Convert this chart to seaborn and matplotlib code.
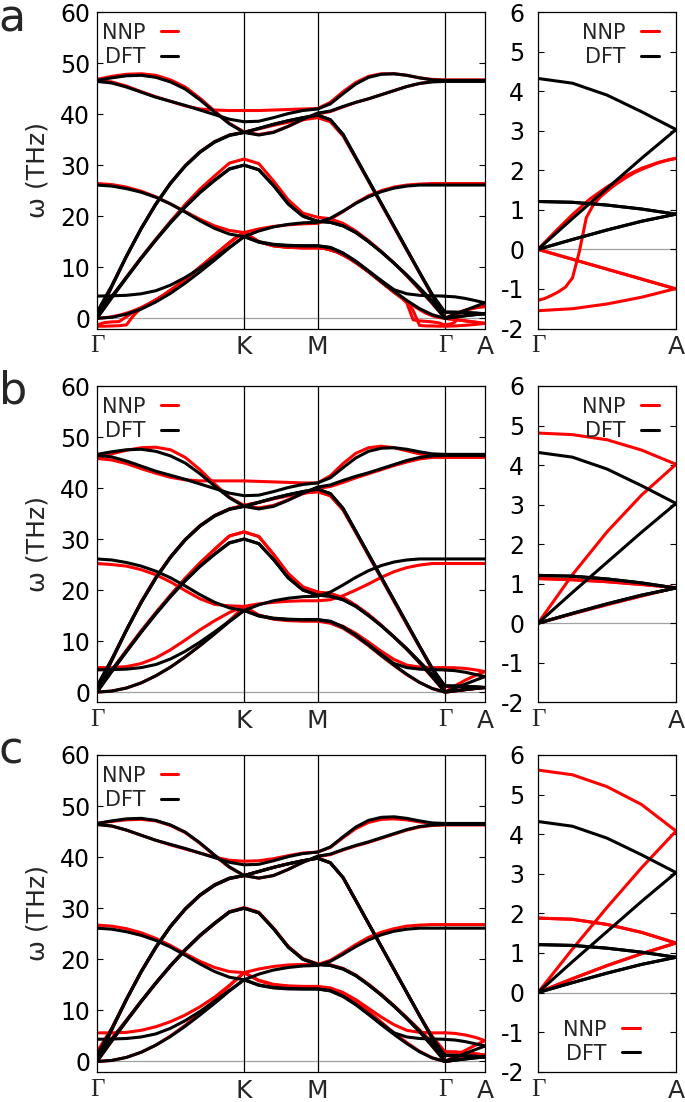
import numpy as np
import pandas as pd
import matplotlib
matplotlib.use("Agg")
import matplotlib.pyplot as plt
from matplotlib.lines import Line2D
import seaborn as sns

# ---------------- k-path ----------------
SEGMENTS = ["GK", "KM", "MG", "GA"]
SEG_LENGTHS = [1.0, 0.5, 0.866, 0.272]          # path lengths of Γ-K, K-M, M-Γ, Γ-A
PATH_LABELS = ["Γ", "K", "M", "Γ", "A"]
ZOOM_LABELS = ["Γ", "A"]
MAIN_YTICKS = [0, 10, 20, 30, 40, 50, 60]
ZOOM_YTICKS = [-2, -1, 0, 1, 2, 3, 4, 5, 6]

# ---------------- DFT bands (THz), evenly sampled along each segment ----------------
DFT_ZA = dict(GK=[0.0, 0.2, 0.8, 1.8, 3.2, 4.9, 6.9, 9.1, 11.4, 13.8, 16.0],
              KM=[16.0, 14.9, 14.4, 14.2, 14.2, 14.2],
              MG=[14.2, 13.8, 12.7, 11.1, 9.2, 7.2, 5.3, 3.5, 1.9, 0.7, 0.0],
              GA=[0.0, 0.78, 1.54, 2.30, 3.03])
DFT_ZA2 = dict(GK=[4.35, 4.4, 4.5, 4.8, 5.4, 6.5, 8.0, 9.8, 11.8, 13.9, 16.0],
               KM=[16.0, 15.0, 14.5, 14.3, 14.2, 14.2],
               MG=[14.2, 13.9, 12.8, 11.2, 9.3, 7.4, 5.6, 4.8, 4.5, 4.4, 4.35],
               GA=[4.32, 4.20, 3.90, 3.48, 3.03])
DFT_TA = dict(GK=[0.0, 4.0, 7.9, 11.7, 15.3, 18.7, 21.8, 24.6, 27.0, 29.2, 30.0],
              KM=[30.0, 29.1, 26.0, 22.4, 20.0, 19.0],
              MG=[19.0, 18.8, 18.1, 16.8, 15.0, 13.0, 10.8, 8.4, 5.8, 3.0, 0.0],
              GA=[0.0, 0.25, 0.49, 0.71, 0.89])
DFT_TA2 = dict(GK=[1.2, 4.3, 8.0, 11.8, 15.4, 18.8, 21.9, 24.7, 27.1, 29.3, 30.0],
               KM=[30.0, 29.1, 26.0, 22.4, 20.0, 19.0],
               MG=[19.0, 18.8, 18.1, 16.8, 15.0, 13.0, 10.8, 8.5, 6.0, 3.4, 1.2],
               GA=[1.21, 1.19, 1.12, 1.02, 0.89])
DFT_LA = dict(GK=[0.0, 6.2, 12.1, 17.5, 22.3, 26.4, 29.8, 32.5, 34.5, 35.8, 36.4],
              KM=[36.4, 37.2, 38.0, 38.7, 39.3, 39.8],
              MG=[39.8, 38.9, 36.0, 31.5, 27.0, 22.5, 18.0, 13.5, 9.0, 4.5, 0.0],
              GA=[0.0, 0.25, 0.49, 0.71, 0.89])
DFT_LA2 = dict(GK=[1.2, 6.4, 12.2, 17.6, 22.4, 26.5, 29.9, 32.6, 34.6, 35.9, 36.4],
               KM=[36.4, 37.2, 38.0, 38.7, 39.3, 39.8],
               MG=[39.8, 38.9, 36.0, 31.5, 27.0, 22.5, 18.0, 13.5, 9.0, 4.7, 1.2],
               GA=[1.21, 1.19, 1.12, 1.02, 0.89])
DFT_ZO = dict(GK=[26.1, 25.9, 25.4, 24.7, 23.7, 22.4, 20.8, 19.1, 17.6, 16.5, 16.0],
              KM=[16.0, 17.1, 17.9, 18.4, 18.7, 18.8],
              MG=[18.8, 19.6, 21.0, 22.5, 23.8, 24.8, 25.5, 25.9, 26.1, 26.1, 26.1],
              GA=[26.1, 26.1])
DFT_LO = dict(GK=[46.6, 47.1, 47.5, 47.6, 47.2, 46.3, 44.9, 42.8, 40.4, 38.1, 36.4],
              KM=[36.4, 35.9, 36.4, 37.6, 39.0, 40.2],
              MG=[40.2, 40.6, 41.5, 42.3, 43.0, 43.8, 44.6, 45.4, 46.0, 46.3, 46.4],
              GA=[46.4, 46.4])
DFT_TO = dict(GK=[46.4, 46.1, 45.3, 44.3, 43.3, 42.5, 41.7, 40.8, 39.9, 39.0, 38.5],
              KM=[38.5, 38.6, 39.3, 40.1, 40.7, 41.0],
              MG=[41.0, 42.0, 44.0, 45.9, 47.2, 47.8, 47.9, 47.6, 47.1, 46.7, 46.6],
              GA=[46.6, 46.6])

# ---------------- NNP bands, panel a ----------------
A_ZA = dict(GK=[0.0, 0.1, 0.3, 0.6, 1.0, 1.5, 2.1, 2.8, 3.6, 4.5, 5.5, 6.5, 7.6, 8.8, 10.0, 11.2, 12.4, 13.6, 14.8, 15.9, 16.8],
            KM=[16.8, 15.0, 14.2, 13.9, 13.8, 13.8],
            MG=[13.8, 13.7, 13.4, 13.0, 12.4, 11.7, 10.9, 10.0, 9.1, 8.1, 7.1, 6.1, 5.1, 4.2, 3.3, 2.5, 1.7, 1.0, 0.5, 0.15, 0.0],
            GA=[0.0, 0.45, 0.88, 1.27, 1.58, 1.84, 2.05, 2.20, 2.30])
A_ZA2 = dict(GK=[-1.3, -0.85, -0.7, -0.65, 0.3, 1.3, 2.0, 2.8, 3.6, 4.5, 5.5, 6.5, 7.6, 8.8, 10.0, 11.2, 12.4, 13.6, 14.8, 15.9, 16.8],
             KM=[16.8, 15.0, 14.2, 13.9, 13.8, 13.8],
             MG=[13.8, 13.7, 13.4, 13.0, 12.4, 11.7, 10.9, 10.0, 9.1, 8.1, 7.1, 6.1, 5.1, 4.2, 3.0, -0.3, -0.5, -0.6, -0.7, -0.9, -1.3],
             GA=[-1.29, -1.24, -1.16, -1.07, -0.95, -0.72, -0.05, 0.80, 1.12, 1.32, 1.47, 1.61, 1.73, 1.84, 1.94, 2.02, 2.09, 2.16, 2.22, 2.27, 2.30])
A_SH = dict(GK=[-1.55, -1.55, -1.5, -1.45, -1.3, 0.6, 2.0, 2.8, 3.6, 4.5, 5.5, 6.5, 7.6, 8.8, 10.0, 11.2, 12.4, 13.6, 14.8, 15.9, 16.8],
            KM=[16.8, 15.0, 14.2, 13.9, 13.8, 13.8],
            MG=[13.8, 13.7, 13.4, 13.0, 12.4, 11.7, 10.9, 10.0, 9.1, 8.1, 7.1, 6.1, 5.1, 4.2, 3.3, 1.5, -1.4, -1.5, -1.5, -1.55, -1.55],
            GA=[-1.55, -1.50, -1.38, -1.21, -0.99])
A_TA = dict(GK=[0.0, 4.1, 8.1, 11.9, 15.5, 19.0, 22.3, 25.3, 27.9, 30.4, 31.2],
            KM=[31.2, 30.3, 26.9, 23.2, 20.6, 19.8],
            MG=[19.8, 19.5, 18.6, 17.1, 15.2, 13.1, 10.8, 8.3, 5.6, 2.9, 0.0],
            GA=[0.0, -0.25, -0.5, -0.75, -1.0])
A_LA = dict(GK=[0.0, 6.2, 12.1, 17.6, 22.4, 26.5, 29.9, 32.6, 34.6, 35.9, 36.5],
            KM=[36.5, 37.1, 37.8, 38.4, 38.9, 39.3],
            MG=[39.3, 38.5, 35.7, 31.3, 26.8, 22.3, 17.8, 13.3, 8.9, 4.4, 0.0],
            GA=[0.0, -0.25, -0.5, -0.75, -1.0])
A_ZO = dict(GK=[26.4, 26.2, 25.7, 24.9, 23.8, 22.4, 20.9, 19.4, 18.1, 17.2, 16.8],
            KM=[16.8, 17.5, 18.0, 18.3, 18.5, 18.6],
            MG=[18.6, 19.4, 20.9, 22.6, 24.0, 25.0, 25.7, 26.1, 26.3, 26.4, 26.4],
            GA=[26.4, 26.4])
A_LO = dict(GK=[46.8, 47.4, 47.8, 47.9, 47.6, 46.7, 45.3, 43.1, 40.6, 38.2, 36.5],
            KM=[36.5, 36.0, 36.5, 37.6, 38.9, 40.0],
            MG=[40.0, 40.5, 41.4, 42.3, 43.0, 43.8, 44.6, 45.4, 46.0, 46.4, 46.6],
            GA=[46.6, 46.6])
A_TO = dict(GK=[46.6, 46.3, 45.5, 44.4, 43.4, 42.5, 41.6, 41.0, 40.8, 40.7, 40.7],
            KM=[40.7, 40.7, 40.8, 40.9, 41.0, 41.1],
            MG=[41.1, 42.3, 44.4, 46.2, 47.4, 47.9, 47.9, 47.6, 47.1, 46.8, 46.7],
            GA=[46.7, 46.7])

# ---------------- NNP bands, panel b ----------------
B_ZA = dict(GK=[0.0, 0.2, 0.8, 1.8, 3.2, 4.9, 6.9, 9.1, 11.5, 14.0, 16.8],
            KM=[16.8, 15.0, 14.3, 14.0, 13.9, 13.9],
            MG=[13.9, 13.5, 12.5, 10.9, 9.1, 7.1, 5.2, 3.4, 1.9, 0.7, 0.0],
            GA=[0.0, 1.23, 2.31, 3.24, 4.02])
B_ZA2 = dict(GK=[4.8, 4.8, 5.0, 5.6, 6.7, 8.3, 10.2, 12.2, 14.0, 15.6, 16.8],
             KM=[16.8, 15.1, 14.4, 14.1, 14.0, 14.0],
             MG=[14.0, 13.7, 12.9, 11.5, 9.8, 8.0, 6.4, 5.3, 4.9, 4.8, 4.8],
             GA=[4.81, 4.77, 4.64, 4.38, 4.02])
B_TA = dict(GK=[0.0, 4.1, 8.1, 11.9, 15.5, 19.0, 22.3, 25.3, 28.0, 30.6, 31.4],
            KM=[31.4, 30.5, 27.0, 23.2, 20.6, 19.6],
            MG=[19.6, 19.3, 18.5, 17.0, 15.2, 13.1, 10.8, 8.4, 5.7, 2.9, 0.0],
            GA=[0.0, 0.24, 0.47, 0.69, 0.90])
B_TA2 = dict(GK=[1.1, 4.3, 8.2, 12.0, 15.6, 19.0, 22.3, 25.3, 28.0, 30.6, 31.4],
             KM=[31.4, 30.5, 27.0, 23.2, 20.6, 19.6],
             MG=[19.6, 19.3, 18.5, 17.0, 15.2, 13.1, 10.8, 8.5, 5.9, 3.3, 1.1],
             GA=[1.13, 1.10, 1.05, 0.98, 0.90])
B_LA = dict(GK=[0.0, 6.2, 12.1, 17.6, 22.4, 26.5, 29.9, 32.6, 34.6, 35.9, 36.6],
            KM=[36.6, 37.2, 37.9, 38.5, 39.0, 39.3],
            MG=[39.3, 38.5, 35.7, 31.3, 26.8, 22.3, 17.8, 13.3, 8.9, 4.4, 0.0],
            GA=[0.0, 0.24, 0.47, 0.69, 0.90])
B_LA2 = dict(GK=[1.1, 6.4, 12.2, 17.7, 22.5, 26.5, 29.9, 32.6, 34.6, 35.9, 36.6],
             KM=[36.6, 37.2, 37.9, 38.5, 39.0, 39.3],
             MG=[39.3, 38.5, 35.7, 31.3, 26.8, 22.3, 17.8, 13.3, 8.9, 4.6, 1.1],
             GA=[1.13, 1.10, 1.05, 0.98, 0.90])
B_ZO = dict(GK=[25.2, 25.0, 24.7, 24.0, 23.0, 21.6, 19.9, 18.3, 17.2, 16.9, 16.8],
            KM=[16.8, 17.3, 17.6, 17.8, 17.9, 17.9],
            MG=[17.9, 18.1, 18.9, 20.0, 21.2, 22.5, 23.6, 24.4, 24.9, 25.2, 25.2],
            GA=[25.2, 25.2])
B_LO = dict(GK=[46.0, 46.7, 47.4, 47.9, 48.0, 47.5, 46.0, 43.6, 40.8, 38.2, 36.6],
            KM=[36.6, 36.1, 36.6, 37.7, 38.9, 39.9],
            MG=[39.9, 40.3, 41.1, 42.0, 42.8, 43.6, 44.4, 45.1, 45.7, 46.0, 46.0],
            GA=[46.0, 46.0])
B_TO = dict(GK=[45.8, 45.5, 44.8, 43.8, 42.9, 42.1, 41.6, 41.4, 41.4, 41.4, 41.4],
            KM=[41.4, 41.3, 41.2, 41.1, 41.0, 41.0],
            MG=[41.0, 42.4, 44.8, 46.8, 47.9, 48.2, 47.9, 47.3, 46.7, 46.3, 46.2],
            GA=[46.2, 46.2])

# ---------------- NNP bands, panel c ----------------
C_ZA = dict(GK=[0.0, 0.2, 0.8, 1.8, 3.2, 5.0, 7.1, 9.5, 12.0, 14.8, 17.4],
            KM=[17.4, 15.8, 15.0, 14.7, 14.6, 14.6],
            MG=[14.6, 14.3, 13.3, 11.7, 9.8, 7.7, 5.6, 3.7, 2.0, 0.7, 0.0],
            GA=[0.0, 1.10, 2.15, 3.15, 4.08])
C_ZA2 = dict(GK=[5.6, 5.6, 5.7, 6.1, 6.8, 7.8, 9.1, 10.7, 12.6, 14.9, 17.4],
             KM=[17.4, 15.9, 15.1, 14.8, 14.7, 14.7],
             MG=[14.7, 14.4, 13.5, 12.1, 10.4, 8.7, 7.2, 6.1, 5.7, 5.6, 5.6],
             GA=[5.62, 5.50, 5.20, 4.75, 4.08])
C_TA = dict(GK=[0.0, 4.0, 7.9, 11.7, 15.3, 18.7, 21.8, 24.6, 27.0, 29.3, 30.1],
            KM=[30.1, 29.2, 26.1, 22.5, 20.1, 19.1],
            MG=[19.1, 18.9, 18.2, 16.9, 15.1, 13.1, 10.9, 8.5, 5.9, 3.0, 0.0],
            GA=[0.0, 0.35, 0.68, 0.98, 1.25])
C_TA2 = dict(GK=[1.9, 4.5, 8.1, 11.8, 15.4, 18.8, 21.9, 24.7, 27.1, 29.3, 30.1],
             KM=[30.1, 29.2, 26.1, 22.5, 20.1, 19.1],
             MG=[19.1, 18.9, 18.2, 16.9, 15.1, 13.1, 10.9, 8.6, 6.2, 3.7, 1.9],
             GA=[1.88, 1.85, 1.72, 1.52, 1.25])
C_LA = dict(GK=[0.0, 6.2, 12.1, 17.5, 22.3, 26.4, 29.8, 32.5, 34.5, 35.8, 36.4],
            KM=[36.4, 37.2, 38.0, 38.7, 39.3, 39.8],
            MG=[39.8, 38.9, 36.0, 31.5, 27.0, 22.5, 18.0, 13.5, 9.0, 4.5, 0.0],
            GA=[0.0, 0.35, 0.68, 0.98, 1.25])
C_LA2 = dict(GK=[1.9, 6.5, 12.2, 17.6, 22.4, 26.5, 29.9, 32.6, 34.6, 35.9, 36.4],
             KM=[36.4, 37.2, 38.0, 38.7, 39.3, 39.8],
             MG=[39.8, 38.9, 36.0, 31.5, 27.0, 22.5, 18.0, 13.5, 9.0, 4.9, 1.9],
             GA=[1.88, 1.85, 1.72, 1.52, 1.25])
C_ZO = dict(GK=[26.7, 26.5, 26.0, 25.2, 24.1, 22.7, 21.1, 19.6, 18.4, 17.6, 17.4],
            KM=[17.4, 18.1, 18.6, 18.9, 19.0, 19.0],
            MG=[19.0, 19.8, 21.3, 22.9, 24.3, 25.3, 26.0, 26.5, 26.7, 26.8, 26.8],
            GA=[26.8, 26.8])
C_LO = dict(GK=[46.6, 47.0, 47.3, 47.4, 47.1, 46.2, 44.8, 42.7, 40.3, 38.0, 36.4],
            KM=[36.4, 35.9, 36.4, 37.6, 39.0, 40.1],
            MG=[40.1, 40.5, 41.4, 42.2, 42.9, 43.7, 44.5, 45.3, 45.9, 46.2, 46.3],
            GA=[46.3, 46.3])
C_TO = dict(GK=[46.4, 46.1, 45.3, 44.3, 43.3, 42.4, 41.6, 40.8, 40.0, 39.4, 39.2],
            KM=[39.2, 39.3, 39.7, 40.3, 40.8, 41.0],
            MG=[41.0, 41.9, 43.8, 45.6, 46.8, 47.4, 47.5, 47.3, 46.9, 46.6, 46.5],
            GA=[46.5, 46.5])

DFT_BANDS = [DFT_ZA, DFT_ZA2, DFT_TA, DFT_TA2, DFT_LA, DFT_LA2, DFT_ZO, DFT_LO, DFT_TO]
NNP_BANDS = {
    "a": [A_ZA, A_ZA2, A_SH, A_TA, A_LA, A_ZO, A_LO, A_TO],
    "b": [B_ZA, B_ZA2, B_TA, B_TA2, B_LA, B_LA2, B_ZO, B_LO, B_TO],
    "c": [C_ZA, C_ZA2, C_TA, C_TA2, C_LA, C_LA2, C_ZO, C_LO, C_TO],
}
PANELS = ["a", "b", "c"]
SERIES = ["NNP", "DFT"]
COLORS = {"NNP": "#ff0000", "DFT": "#000000"}


def assemble(bands, source):
    recs = []
    for i, band in enumerate(bands):
        start = 0.0
        for seg, length in zip(SEGMENTS, SEG_LENGTHS):
            vals = np.asarray(band[seg], float)
            frac = np.linspace(0.0, 1.0, len(vals))
            for f, v in zip(frac, vals):
                recs.append((source, i, start + f * length, f, seg, v))
            start += length
    return pd.DataFrame(recs, columns=["source", "band", "k", "frac", "seg", "freq"])


# ---------------- style ----------------
sns.set_style("ticks")
plt.rcParams["font.family"] = ["DejaVu Sans"]
plt.rcParams["axes.unicode_minus"] = False

W, H = 685, 1102
fig = plt.figure(figsize=(W / 100, H / 100), dpi=100)

LW = 2.2
MAIN_X0, MAIN_X1 = 97, 485
ZOOM_X0, ZOOM_X1 = 538, 676
ROWS = {"a": (12, 328.5), "b": (386, 702.3), "c": (755, 1071.7)}
LETTER_BASE = {"a": 32, "b": 403, "c": 763}
TICK_FS = 17
XLAB_FS = 18
LEG_FS = 15

sym_pos = np.concatenate([[0.0], np.cumsum(SEG_LENGTHS)])

legend_handles = [Line2D([], [], color=COLORS[s], lw=LW) for s in SERIES]
LEG_KW = dict(frameon=False, markerfirst=False, fontsize=LEG_FS, handlelength=0.85,
              handletextpad=0.75, labelspacing=0.2, borderpad=0, borderaxespad=0)


def style_axis(ax, ymin, ymax, yticks, xt, xl):
    ax.set_ylim(ymin, ymax)
    ax.set_yticks(yticks)
    ax.set_yticklabels([str(t) for t in yticks])
    ax.set_xticks(xt)
    ax.set_xticklabels(xl)
    ax.set_xlabel("")
    ax.set_ylabel("")
    ax.tick_params(axis="y", direction="in", length=4, width=0.8, left=True, right=True,
                   labelsize=TICK_FS, colors="black")
    ax.tick_params(axis="x", length=0, pad=5, labelsize=XLAB_FS)
    for lab in ax.get_xticklabels():
        if lab.get_text() == "Γ":
            lab.set_fontfamily(["Liberation Serif", "DejaVu Serif"])
    for sp in ax.spines.values():
        sp.set_linewidth(0.9)
        sp.set_color("black")
        sp.set_visible(True)


for p in PANELS:
    top, bot = ROWS[p]
    df = pd.concat([assemble(NNP_BANDS[p], "NNP"), assemble(DFT_BANDS, "DFT")], ignore_index=True)

    # ---- main panel ----
    axm = fig.add_axes([MAIN_X0 / W, 1 - bot / H, (MAIN_X1 - MAIN_X0) / W, (bot - top) / H])
    axm.axhline(0, color="#a0a0a0", lw=0.9, zorder=0.5)
    for xp in sym_pos[1:-1]:
        axm.axvline(xp, color="black", lw=0.9, zorder=0.6)
    for s in SERIES:
        sns.lineplot(data=df[df.source == s], x="k", y="freq", units="band", estimator=None,
                     sort=False, color=COLORS[s], linewidth=LW, ax=axm, legend=False)
    axm.set_xlim(sym_pos[0], sym_pos[-1])
    style_axis(axm, -2, 60, MAIN_YTICKS, sym_pos, PATH_LABELS)
    axm.tick_params(axis="y", pad=5)
    axm.legend(legend_handles, SERIES, loc="upper left", bbox_to_anchor=(0.012, 0.966), **LEG_KW)

    # ---- zoom panel (Γ-A) ----
    axz = fig.add_axes([ZOOM_X0 / W, 1 - bot / H, (ZOOM_X1 - ZOOM_X0) / W, (bot - top) / H])
    axz.axhline(0, color="#a0a0a0", lw=0.9, zorder=0.5)
    dz = df[df.seg == "GA"]
    for s in SERIES:
        sns.lineplot(data=dz[dz.source == s], x="frac", y="freq", units="band", estimator=None,
                     sort=False, color=COLORS[s], linewidth=LW, ax=axz, legend=False)
    axz.set_xlim(0, 1)
    style_axis(axz, -2, 6, ZOOM_YTICKS, [0, 1], ZOOM_LABELS)
    axz.tick_params(axis="y", pad=10)
    if p == "c":
        axz.legend(legend_handles, SERIES, loc="lower right", bbox_to_anchor=(0.74, 0.025), **LEG_KW)
    else:
        axz.legend(legend_handles, SERIES, loc="upper right", bbox_to_anchor=(0.875, 0.966), **LEG_KW)

    # ---- labels ----
    fig.text(37 / W, 1 - (top + bot) / 2 / H, "ω (THz)", rotation=90, ha="center", va="center",
             fontsize=18)
    fig.text(-0.002, 1 - LETTER_BASE[p] / H, p, fontsize=32, ha="left", va="baseline")

fig.savefig("out.png", dpi=100)
